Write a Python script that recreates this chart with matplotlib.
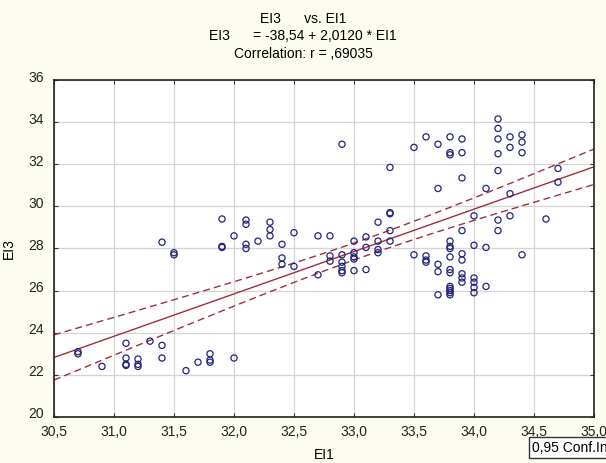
import matplotlib
matplotlib.use("Agg")
import matplotlib.pyplot as plt
import matplotlib.transforms as mtransforms
import numpy as np

plt.rcParams["font.family"] = ["Liberation Sans", "DejaVu Sans"]

# EI1 values grouped by column, with the EI3 values read at each column
X_GROUPS = [30.7, 30.9, 31.1, 31.2, 31.3, 31.4, 31.5, 31.6, 31.7, 31.8,
            31.9, 32.0, 32.1, 32.2, 32.3, 32.4, 32.5, 32.7, 32.8, 32.9,
            33.0, 33.1, 33.2, 33.3, 33.5, 33.6, 33.7, 33.8, 33.9, 34.0,
            34.1, 34.2, 34.3, 34.4, 34.6, 34.7]
Y_GROUPS = [
    [23.0, 23.1],
    [22.4],
    [23.5, 22.8, 22.5, 22.45],
    [22.75, 22.5, 22.4],
    [23.6],
    [28.3, 23.4, 22.8],
    [27.8, 27.7],
    [22.2],
    [22.6],
    [23.0, 22.7, 22.6],
    [29.4, 28.1, 28.05],
    [28.6, 22.8],
    [29.35, 29.15, 28.2, 28.0],
    [28.35],
    [29.25, 28.9, 28.6],
    [28.2, 27.55, 27.25],
    [28.75, 27.15],
    [28.6, 26.75],
    [28.6, 27.65, 27.4],
    [32.95, 27.7, 27.35, 27.15, 26.95, 26.85],
    [28.35, 27.8, 27.6, 27.5, 26.95],
    [28.55, 28.05, 27.0],
    [29.25, 28.35, 27.95, 27.8],
    [31.85, 29.7, 29.65, 28.85, 28.35],
    [32.8, 27.7],
    [33.3, 27.65, 27.45, 27.35],
    [32.95, 30.85, 27.25, 26.9, 25.8],
    [33.3, 32.55, 32.45, 28.35, 28.1, 28.0, 27.6, 27.0, 26.85,
     26.2, 26.1, 26.0, 25.9, 25.8],
    [33.2, 32.55, 31.35, 28.85, 27.75, 27.45, 26.8, 26.6, 26.4],
    [29.55, 28.15, 26.6, 26.4, 26.15, 25.9],
    [30.85, 28.05, 26.2],
    [34.15, 33.7, 33.2, 32.5, 31.7, 29.35, 28.85],
    [33.3, 32.8, 30.6, 29.55],
    [33.4, 33.05, 32.55, 27.7],
    [29.4],
    [31.8, 31.15],
]

INTERCEPT = -38.54
SLOPE = 2.0120

X_TICKS = [30.5, 31.0, 31.5, 32.0, 32.5, 33.0, 33.5, 34.0, 34.5, 35.0]
X_TICK_LABELS = ["30,5", "31,0", "31,5", "32,0", "32,5", "33,0", "33,5", "34,0", "34,5", "35,0"]
Y_TICKS = [20, 22, 24, 26, 28, 30, 32, 34, 36]

BG = "#FDFCF0"
POINT_COLOR = "#23237a"
LINE_COLOR = "#9e2f3f"

ei1 = np.concatenate([[x] * len(ys) for x, ys in zip(X_GROUPS, Y_GROUPS)])
ei3 = np.concatenate([np.array(ys) for ys in Y_GROUPS])

# 0.95 confidence band around the regression line
n = len(ei1)
resid = ei3 - (INTERCEPT + SLOPE * ei1)
s = np.sqrt(np.sum(resid ** 2) / (n - 2))
xbar = ei1.mean()
sxx = np.sum((ei1 - xbar) ** 2)
t_crit = 1.977
xs = np.linspace(30.5, 35.0, 200)
fit = INTERCEPT + SLOPE * xs
half = t_crit * s * np.sqrt(1.0 / n + (xs - xbar) ** 2 / sxx)

fig = plt.figure(figsize=(6.06, 4.63), dpi=100)
fig.patch.set_facecolor(BG)
ax = fig.add_axes([0.0891, 0.0994, 0.8911, 0.7278])
ax.set_facecolor("white")

ax.scatter(ei1, ei3, s=20, facecolors="none", edgecolors=POINT_COLOR,
           linewidths=0.9, zorder=3)
ax.plot(xs, fit, color=LINE_COLOR, lw=1.0, zorder=2)
ax.plot(xs, fit + half, color=LINE_COLOR, lw=1.0, ls=(0, (5, 3)), zorder=2)
ax.plot(xs, fit - half, color=LINE_COLOR, lw=1.0, ls=(0, (5, 3)), zorder=2)

ax.set_xlim(30.5, 35.0)
ax.set_ylim(20, 36)
ax.set_xticks(X_TICKS)
ax.set_xticklabels(X_TICK_LABELS)
ax.set_yticks(Y_TICKS)
ax.grid(True, color="#d4d4d4", lw=0.9)
ax.set_axisbelow(True)
ax.tick_params(direction="in", length=3, top=True, right=True,
               labelsize=10, color="#333333", labelcolor="#222222")
ax.tick_params(axis="x", pad=6)
ax.tick_params(axis="y", pad=7)
for sp in ax.spines.values():
    sp.set_linewidth(1.2)
    sp.set_color("#222222")

# y tick labels sit a little above their ticks in the original
shift = mtransforms.ScaledTranslation(0, 4 / 100, fig.dpi_scale_trans)
for lbl in ax.get_yticklabels():
    lbl.set_transform(lbl.get_transform() + shift)

ax.set_xlabel("EI1", fontsize=10, labelpad=6)
ax.set_ylabel("EI3", fontsize=10, labelpad=9)

fig.text(0.50, 0.975, "EI3      vs. EI1", ha="center", va="top", fontsize=10)
fig.text(0.50, 0.937, "EI3      = -38,54 + 2,0120 * EI1", ha="center", va="top", fontsize=10)
fig.text(0.50, 0.898, "Correlation: r = ,69035", ha="center", va="top", fontsize=10)

fig.text(0.878, 0.018, "0,95 Conf.Int", ha="left", va="bottom", fontsize=10,
         bbox=dict(boxstyle="square,pad=0.25", facecolor="white",
                   edgecolor="#333333", lw=1.0))

fig.savefig("out.png", dpi=100, facecolor=BG)
